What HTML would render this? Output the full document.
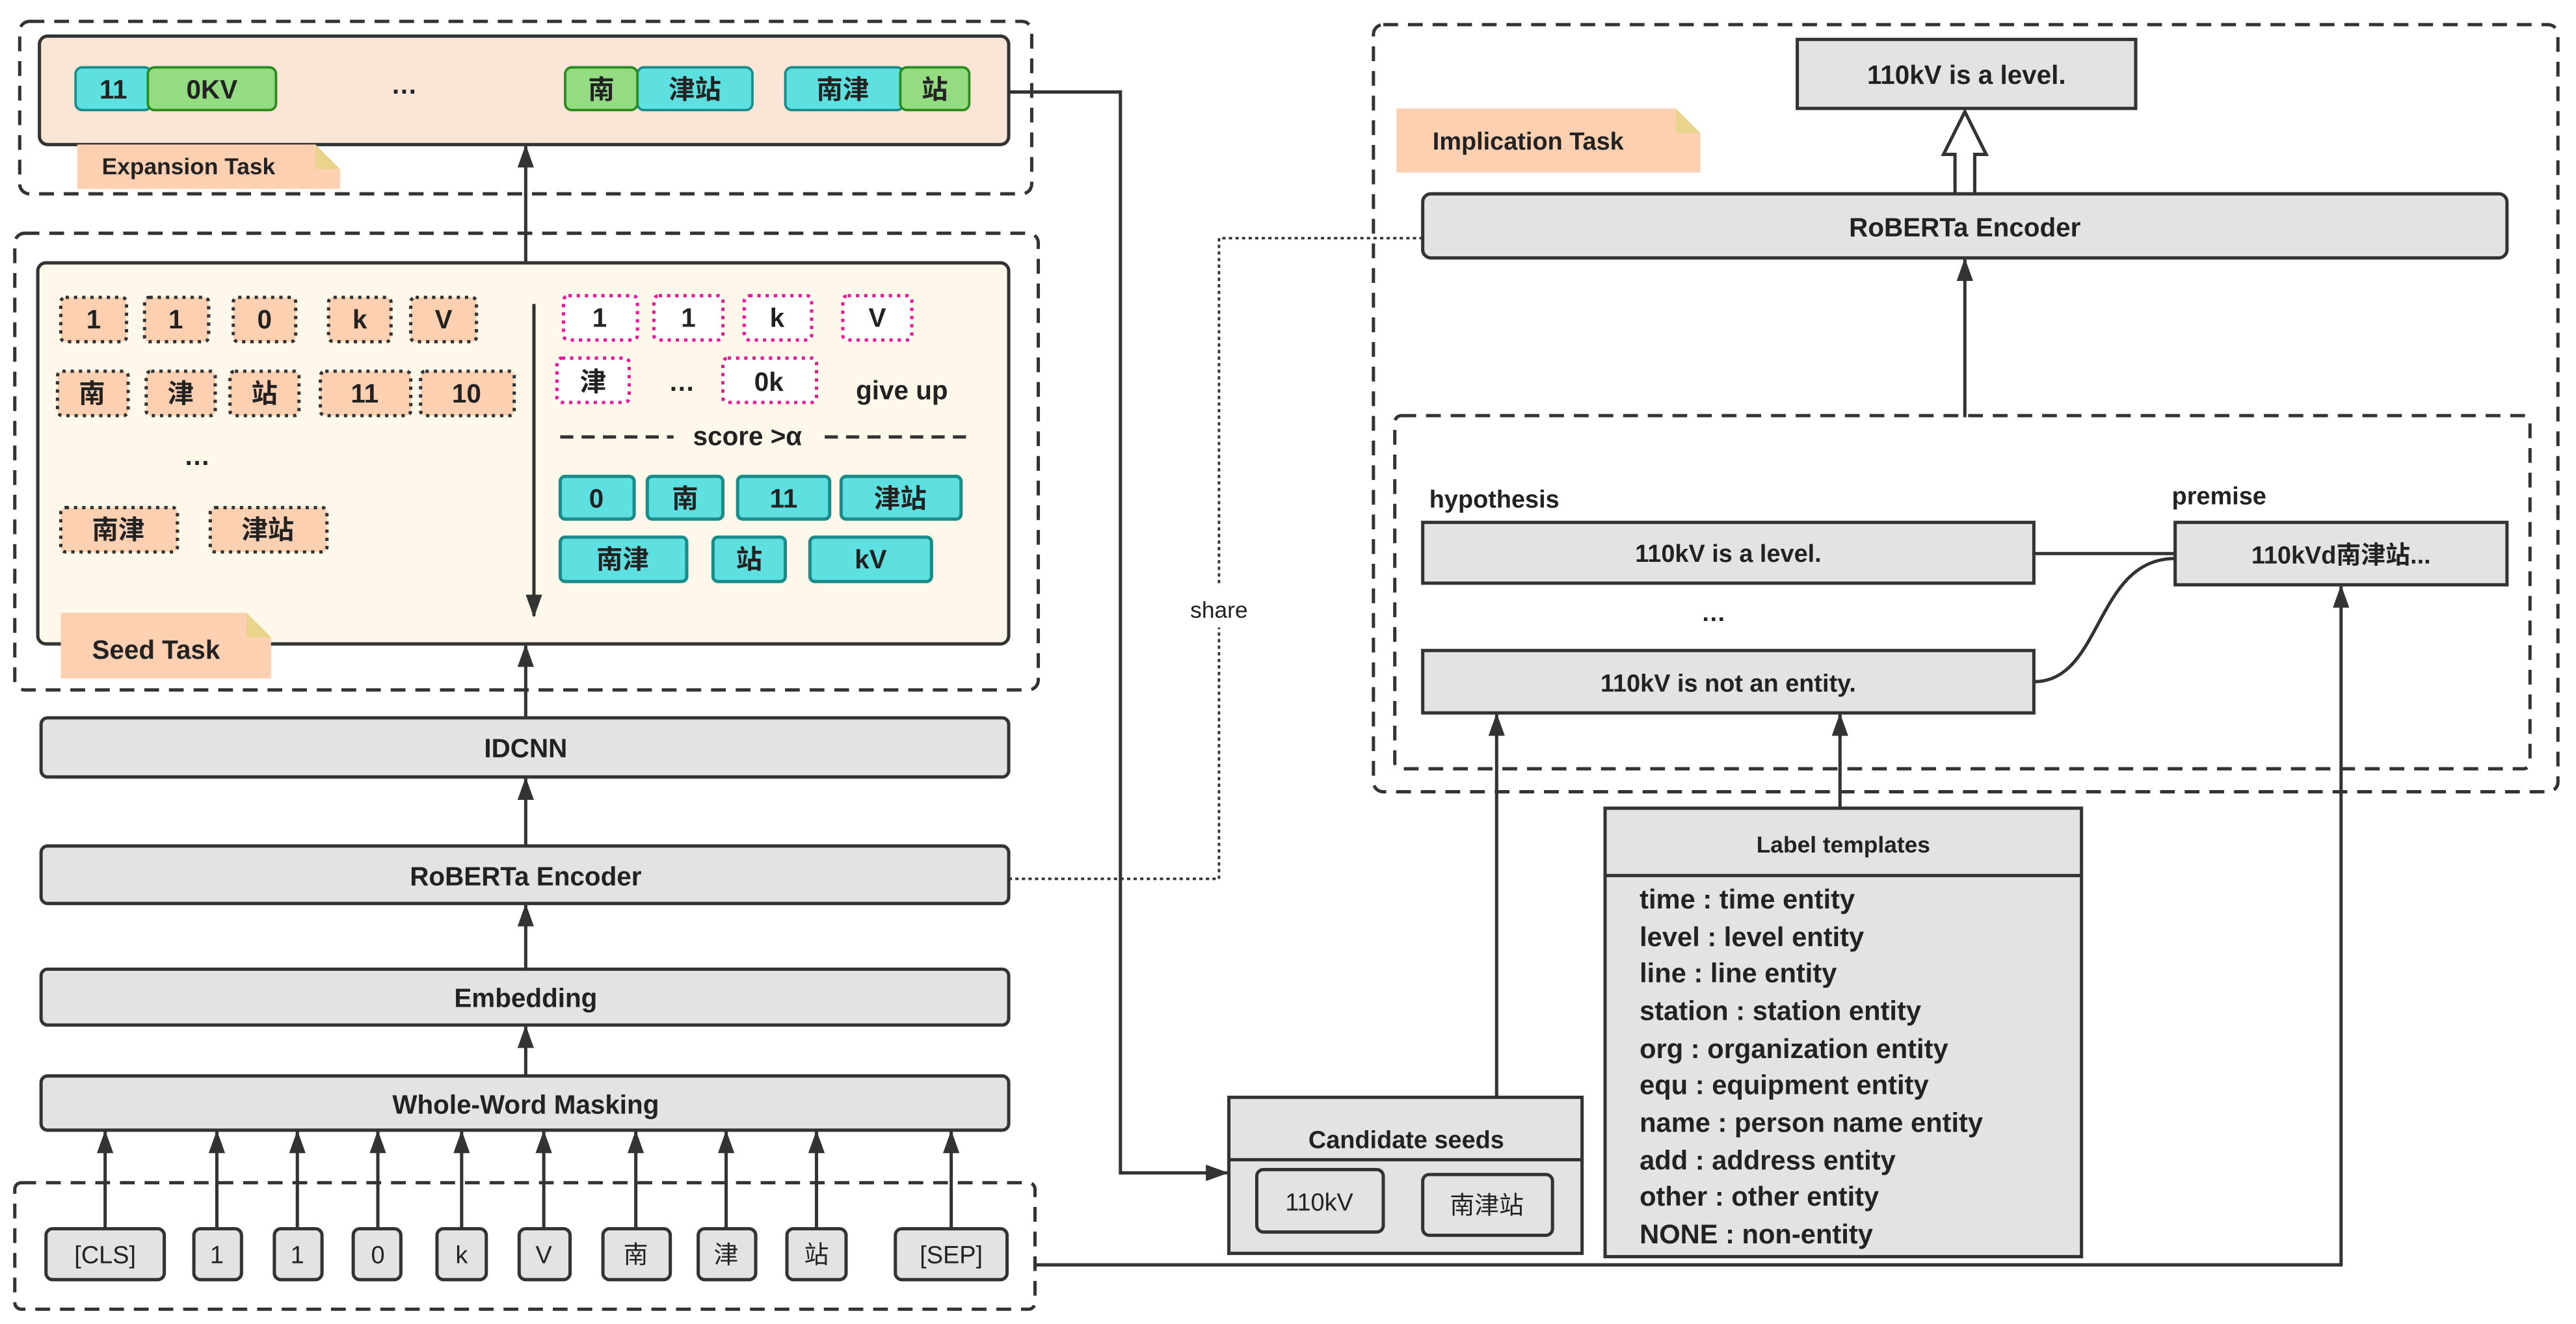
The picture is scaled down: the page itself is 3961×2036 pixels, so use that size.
<!DOCTYPE html>
<html><head><meta charset="utf-8"><style>
html,body{margin:0;padding:0;background:#fff;}
svg{display:block;}
text{font-family:"Liberation Sans","Noto Sans CJK SC",sans-serif;fill:#222;}
.b{font-weight:bold;}
.t{font-weight:bold;}
</style></head><body>
<svg width="3961" height="2036" viewBox="0 0 1568 806" preserveAspectRatio="none" xmlns="http://www.w3.org/2000/svg">
<defs>
<marker id="ar" markerWidth="14" markerHeight="10" refX="13" refY="5" orient="auto" markerUnits="userSpaceOnUse" viewBox="0 0 14 10"><path d="M0,0 L14,5 L0,10 z" fill="#333"/></marker>
</defs>
<g stroke="#333" stroke-width="2" fill="none" stroke-dasharray="9,6">
<rect x="12" y="13" width="616" height="105" rx="6"/>
<rect x="9" y="142" width="623" height="278" rx="6"/>
<rect x="9" y="720" width="621" height="77" rx="4"/>
<rect x="836" y="15" width="721" height="467" rx="6"/>
<rect x="849" y="253" width="691" height="215" rx="4"/>
</g>
<!-- Expansion -->
<rect x="24" y="22" width="590" height="66" rx="5" fill="#fbe5d6" stroke="#333" stroke-width="2"/>
<g font-size="16" text-anchor="middle" class="t">
<rect x="46" y="41" width="46" height="26" rx="4" fill="#5fe0e0" stroke="#1b8c8c" stroke-width="1.5"/><text x="69" y="60">11</text>
<rect x="90" y="41" width="78" height="26" rx="4" fill="#93dc82" stroke="#2b8c1e" stroke-width="1.5"/><text x="129" y="60">0KV</text>
<text x="246" y="57" class="b">…</text>
<rect x="388" y="41" width="70" height="26" rx="4" fill="#5fe0e0" stroke="#1b8c8c" stroke-width="1.5"/><text x="423" y="60">津站</text>
<rect x="344" y="41" width="44" height="26" rx="4" fill="#93dc82" stroke="#2b8c1e" stroke-width="1.5"/><text x="366" y="60">南</text>
<rect x="478" y="41" width="72" height="26" rx="4" fill="#5fe0e0" stroke="#1b8c8c" stroke-width="1.5"/><text x="513" y="60">南津</text>
<rect x="548" y="41" width="42" height="26" rx="4" fill="#93dc82" stroke="#2b8c1e" stroke-width="1.5"/><text x="569" y="60">站</text>
</g>
<path d="M47,88 H192 L207,103 V115 H47 Z" fill="#fdd0b1"/><path d="M192,88 L207,103 H192 Z" fill="#e8d48a"/>
<text x="62" y="106" font-size="14" class="b">Expansion Task</text>
<line x1="320" y1="160" x2="320" y2="89" stroke="#333" stroke-width="2" marker-end="url(#ar)"/>
<!-- Seed -->
<rect x="23" y="160" width="591" height="232" rx="5" fill="#fdf8e9" stroke="#333" stroke-width="2"/>
<g font-size="16" text-anchor="middle" class="t">
<g fill="#fdd0b1" stroke="#333" stroke-width="2" stroke-dasharray="2,3">
<rect x="37" y="181" width="40" height="27" rx="3"/><rect x="88" y="181" width="39" height="27" rx="3"/><rect x="142" y="181" width="38" height="27" rx="3"/><rect x="200" y="181" width="38" height="27" rx="3"/><rect x="250" y="181" width="40" height="27" rx="3"/>
<rect x="35" y="226" width="43" height="27" rx="3"/><rect x="89" y="226" width="42" height="27" rx="3"/><rect x="140" y="226" width="42" height="27" rx="3"/><rect x="195" y="226" width="55" height="27" rx="3"/><rect x="256" y="226" width="57" height="27" rx="3"/>
<rect x="37" y="309" width="71" height="27" rx="3"/><rect x="128" y="309" width="71" height="27" rx="3"/>
</g>
<text x="57" y="200">1</text><text x="107" y="200">1</text><text x="161" y="200">0</text><text x="219" y="200">k</text><text x="270" y="200">V</text>
<text x="56" y="245">南</text><text x="110" y="245">津</text><text x="161" y="245">站</text><text x="222" y="245">11</text><text x="284" y="245">10</text>
<text x="120" y="283" class="b">…</text>
<text x="72" y="328">南津</text><text x="163" y="328">津站</text>
<g fill="#fff" stroke="#e6199a" stroke-width="2" stroke-dasharray="2,3">
<rect x="343" y="180" width="45" height="27" rx="3"/><rect x="398" y="180" width="42" height="27" rx="3"/><rect x="453" y="180" width="41" height="27" rx="3"/><rect x="513" y="180" width="42" height="27" rx="3"/>
<rect x="339" y="218" width="44" height="27" rx="3"/><rect x="440" y="218" width="57" height="27" rx="3"/>
</g>
<text x="365" y="199">1</text><text x="419" y="199">1</text><text x="473" y="199">k</text><text x="534" y="199">V</text>
<text x="361" y="238">津</text><text x="415" y="238" class="b">…</text><text x="468" y="238">0k</text>
<text x="549" y="243" class="b">give up</text>
<text x="455" y="271" class="b">score &gt;α</text>
<g fill="#5fe0e0" stroke="#1b8c8c" stroke-width="2">
<rect x="341" y="290" width="45" height="26" rx="3"/><rect x="394" y="290" width="46" height="26" rx="3"/><rect x="449" y="290" width="56" height="26" rx="3"/><rect x="512" y="290" width="73" height="26" rx="3"/>
<rect x="341" y="327" width="77" height="27" rx="3"/><rect x="434" y="327" width="44" height="27" rx="3"/><rect x="493" y="327" width="74" height="27" rx="3"/>
</g>
<text x="363" y="309">0</text><text x="417" y="309">南</text><text x="477" y="309">11</text><text x="548" y="309">津站</text>
<text x="379" y="346">南津</text><text x="456" y="346">站</text><text x="530" y="346">kV</text>
</g>
<g stroke="#333" stroke-width="2" stroke-dasharray="8,5"><line x1="341" y1="266" x2="410" y2="266"/><line x1="502" y1="266" x2="588" y2="266"/></g>
<line x1="325" y1="185" x2="325" y2="375" stroke="#333" stroke-width="2" marker-end="url(#ar)"/>
<path d="M37,373 H150 L165,388 V413 H37 Z" fill="#fdd0b1"/><path d="M150,373 L165,388 H150 Z" fill="#e8d48a"/>
<text x="56" y="401" font-size="16" class="b">Seed Task</text>
<line x1="320" y1="437" x2="320" y2="393" stroke="#333" stroke-width="2" marker-end="url(#ar)"/>
<!-- stack -->
<g fill="#e3e3e3" stroke="#333" stroke-width="2">
<rect x="25" y="437" width="589" height="36" rx="4"/><rect x="25" y="515" width="589" height="35" rx="4"/><rect x="25" y="590" width="589" height="34" rx="4"/><rect x="25" y="655" width="589" height="33" rx="4"/>
</g>
<g font-size="16" class="b" text-anchor="middle">
<text x="320" y="461">IDCNN</text><text x="320" y="539">RoBERTa Encoder</text><text x="320" y="613">Embedding</text><text x="320" y="678">Whole-Word Masking</text>
</g>
<g stroke="#333" stroke-width="2" marker-end="url(#ar)">
<line x1="320" y1="515" x2="320" y2="474"/><line x1="320" y1="590" x2="320" y2="551"/><line x1="320" y1="655" x2="320" y2="625"/>
<line x1="64" y1="748" x2="64" y2="689"/><line x1="132" y1="748" x2="132" y2="689"/><line x1="181" y1="748" x2="181" y2="689"/><line x1="230" y1="748" x2="230" y2="689"/><line x1="281" y1="748" x2="281" y2="689"/><line x1="331" y1="748" x2="331" y2="689"/><line x1="387" y1="748" x2="387" y2="689"/><line x1="442" y1="748" x2="442" y2="689"/><line x1="497" y1="748" x2="497" y2="689"/><line x1="579" y1="748" x2="579" y2="689"/>
</g>
<g fill="#e3e3e3" stroke="#333" stroke-width="2">
<rect x="28" y="748" width="72" height="31" rx="4"/><rect x="118" y="748" width="29" height="31" rx="4"/><rect x="167" y="748" width="29" height="31" rx="4"/><rect x="215" y="748" width="29" height="31" rx="4"/><rect x="266" y="748" width="30" height="31" rx="4"/><rect x="316" y="748" width="31" height="31" rx="4"/><rect x="367" y="748" width="41" height="31" rx="4"/><rect x="425" y="748" width="35" height="31" rx="4"/><rect x="479" y="748" width="36" height="31" rx="4"/><rect x="545" y="748" width="68" height="31" rx="4"/>
</g>
<g font-size="15" text-anchor="middle">
<text x="64" y="769">[CLS]</text><text x="132" y="769">1</text><text x="181" y="769">1</text><text x="230" y="769">0</text><text x="281" y="769">k</text><text x="331" y="769">V</text><text x="387" y="769">南</text><text x="442" y="769">津</text><text x="497" y="769">站</text><text x="579" y="769">[SEP]</text>
</g>
<!-- connectors -->
<path d="M630,770 H1425 V357" stroke="#333" stroke-width="2" fill="none" marker-end="url(#ar)"/>
<path d="M614,56 H682 V714 H747" stroke="#333" stroke-width="2" fill="none" marker-end="url(#ar)"/>
<path d="M614,535 H742 V382 M742,355 V145 H866" stroke="#333" stroke-width="1.5" fill="none" stroke-dasharray="2,2"/>
<text x="742" y="376" font-size="14" text-anchor="middle" fill="#555">share</text>
<!-- right -->
<rect x="1094" y="24" width="206" height="42" fill="#e3e3e3" stroke="#333" stroke-width="2"/>
<text x="1197" y="51" font-size="16" class="b" text-anchor="middle">110kV is a level.</text>
<path d="M1190,118 V94 H1183 L1196,68 L1209,94 H1202 V118 Z" fill="#fff" stroke="#333" stroke-width="2"/>
<path d="M850,66 H1020 L1035,81 V105 H850 Z" fill="#fdd0b1"/><path d="M1020,66 L1035,81 H1020 Z" fill="#e8d48a"/>
<text x="872" y="91" font-size="15" class="b">Implication Task</text>
<rect x="866" y="118" width="660" height="39" rx="5" fill="#e3e3e3" stroke="#333" stroke-width="2"/>
<text x="1196" y="144" font-size="16" class="b" text-anchor="middle">RoBERTa Encoder</text>
<line x1="1196" y1="254" x2="1196" y2="158" stroke="#333" stroke-width="2" marker-end="url(#ar)"/>
<text x="870" y="309" font-size="15" class="b">hypothesis</text>
<text x="1322" y="307" font-size="15" class="b">premise</text>
<g fill="#e3e3e3" stroke="#333" stroke-width="2">
<rect x="866" y="318" width="372" height="37"/><rect x="866" y="396" width="372" height="38"/><rect x="1324" y="318" width="202" height="38"/>
</g>
<g font-size="15" class="b" text-anchor="middle">
<text x="1052" y="342">110kV is a level.</text><text x="1052" y="421">110kV is not an entity.</text><text x="1425" y="343">110kVd南津站...</text><text x="1043" y="378">…</text>
</g>
<path d="M1238,337 H1324 M1238,415 C1280,415 1275,340 1324,340" stroke="#333" stroke-width="2" fill="none"/>
<line x1="911" y1="668" x2="911" y2="435" stroke="#333" stroke-width="2" marker-end="url(#ar)"/>
<line x1="1120" y1="492" x2="1120" y2="435" stroke="#333" stroke-width="2" marker-end="url(#ar)"/>
<!-- candidate -->
<rect x="748" y="668" width="215" height="95" fill="#e3e3e3" stroke="#333" stroke-width="2"/>
<line x1="748" y1="706" x2="963" y2="706" stroke="#333" stroke-width="2"/>
<text x="856" y="699" font-size="15" class="b" text-anchor="middle">Candidate seeds</text>
<rect x="765" y="712" width="77" height="38" rx="4" fill="#e3e3e3" stroke="#333" stroke-width="2"/>
<rect x="866" y="715" width="79" height="37" rx="4" fill="#e3e3e3" stroke="#333" stroke-width="2"/>
<text x="803" y="737" font-size="15" text-anchor="middle" fill="#777">110kV</text>
<text x="905" y="739" font-size="15" text-anchor="middle" fill="#777">南津站</text>
<!-- label templates -->
<rect x="977" y="492" width="290" height="273" fill="#e3e3e3" stroke="#333" stroke-width="2"/>
<line x1="977" y1="533" x2="1267" y2="533" stroke="#333" stroke-width="2"/>
<text x="1122" y="519" font-size="14" class="b" text-anchor="middle">Label templates</text>
<g font-size="16.5" class="b">
<text x="998" y="553">time : time entity</text>
<text x="998" y="576">level : level entity</text>
<text x="998" y="598">line : line entity</text>
<text x="998" y="621">station : station entity</text>
<text x="998" y="644">org : organization entity</text>
<text x="998" y="666">equ : equipment entity</text>
<text x="998" y="689">name : person name entity</text>
<text x="998" y="712">add : address entity</text>
<text x="998" y="734">other : other entity</text>
<text x="998" y="757">NONE : non-entity</text>
</g>
</svg>
</body></html>
